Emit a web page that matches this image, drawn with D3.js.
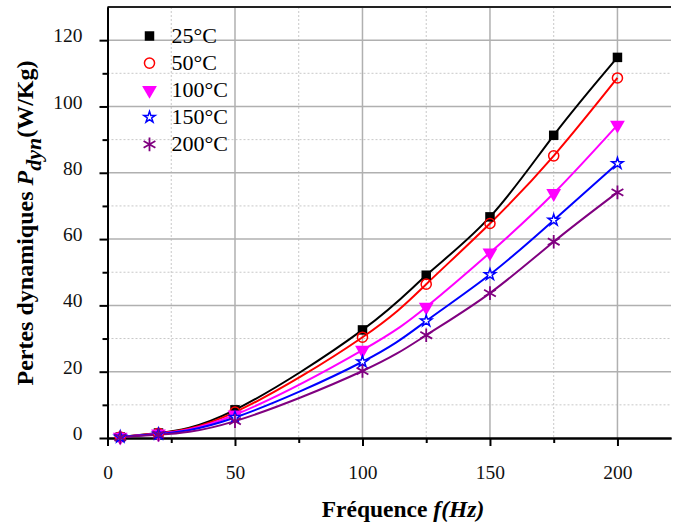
<!DOCTYPE html>
<html>
<head>
<meta charset="utf-8">
<script src="https://cdn.jsdelivr.net/npm/d3@7/dist/d3.min.js"></script>
<style>
body { margin: 0; background: #fff; }
svg text { font-family: "Liberation Serif", "Times New Roman", "DejaVu Serif", serif; }
.grid-major line { stroke: #b0b0b0; stroke-width: 1.5; }
.grid-minor line { stroke: #c8c8c8; stroke-width: 1; stroke-dasharray: 2,2; }
.axis path, .axis line { stroke: #000; stroke-width: 2; }
.axis text { font-size: 19.5px; fill: #111; }
.line { fill: none; stroke-width: 2; }
</style>
</head>
<body>
<div class="chart"></div>
<script>
var freq = [5, 20, 50, 100, 125, 150, 175, 200];
var labels = ["25°C", "50°C", "100°C", "150°C", "200°C"];
var colors = ["#000000", "#ff0000", "#ff00ff", "#0000ff", "#800080"];
var p25 = [0.3, 1.5, 8.5, 32.6, 49.1, 66.7, 91.3, 114.8];
var p50 = [0.3, 1.4, 7.8, 30.4, 46.4, 64.7, 85.1, 108.6];
var p100 = [0.3, 1.3, 7.0, 26.5, 39.5, 55.9, 73.8, 94.4];
var p150 = [0.3, 1.2, 6.2, 23.0, 35.3, 49.3, 65.7, 82.8];
var p200 = [0.2, 1.0, 5.1, 20.2, 31.0, 43.7, 59.2, 74.1];
var xTicks = [0, 50, 100, 150, 200];
var xMinor = [25, 75, 125, 175];
var yTicks = [0, 20, 40, 60, 80, 100, 120];
var yMinor = [10, 30, 50, 70, 90, 110, 130];

var series = [p25, p50, p100, p150, p200].map(function(v, i) {
  return { name: labels[i], color: colors[i], values: v.map(function(y, j) { return { x: freq[j], y: y }; }) };
});

var ww = 673, hh = 526
  , margin = { top: 7, right: 2, bottom: 88, left: 107.5 }
  , width = ww - margin.left - margin.right
  , height = hh - margin.top - margin.bottom;

var svgm = d3.select('.chart').append('svg').attr('width', ww).attr('height', hh);
var svg = svgm.append('g').attr('transform', `translate(${margin.left},${margin.top})`);

var x = d3.scaleLinear().domain([0, 221]).range([0, width])
  , y = d3.scaleLinear().domain([0, 130]).range([height, 0]);

// grid, minor dotted then major solid
svg.append('g').attr('class', 'grid-minor')
  .selectAll('line.v').data(xMinor).enter().append('line')
  .attr('x1', d => x(d)).attr('x2', d => x(d)).attr('y1', 0).attr('y2', height);
svg.select('.grid-minor')
  .selectAll('line.h').data(yMinor).enter().append('line')
  .attr('x1', 0).attr('x2', width).attr('y1', d => y(d)).attr('y2', d => y(d));
var gMaj = svg.append('g').attr('class', 'grid-major');
gMaj.selectAll('line.v').data(xTicks.slice(1)).enter().append('line')
  .attr('x1', d => x(d)).attr('x2', d => x(d)).attr('y1', 0).attr('y2', height);
gMaj.selectAll('line.h').data(yTicks.slice(1)).enter().append('line')
  .attr('x1', 0).attr('x2', width).attr('y1', d => y(d)).attr('y2', d => y(d));

// top frame
svg.append('line').attr('x1', 0).attr('x2', width).attr('y1', 0).attr('y2', 0)
  .attr('stroke', '#222').attr('stroke-width', 2);

// axes
var xAxis = d3.axisBottom(x).tickValues(xTicks).tickSize(8).tickSizeOuter(0).tickPadding(19).tickFormat(d3.format('d'));
var xAxisMinor = d3.axisBottom(x).tickValues(xMinor).tickSize(5).tickSizeOuter(0).tickFormat('');
var yAxis = d3.axisLeft(y).tickValues(yTicks).tickSize(8).tickSizeOuter(0).tickPadding(17).tickFormat(d3.format('d'));
var yAxisMinor = d3.axisLeft(y).tickValues(yMinor.slice(0, -1)).tickSize(5).tickSizeOuter(0).tickFormat('');

svg.append('g').attr('class', 'axis').attr('transform', `translate(0,${height})`).call(xAxisMinor);
svg.append('g').attr('class', 'axis').attr('transform', `translate(0,${height})`).call(xAxis);
svg.append('g').attr('class', 'axis').call(yAxisMinor);
svg.append('g').attr('class', 'axis yaxis').call(yAxis);
svg.selectAll('.axis').attr('font-family', null);
svg.selectAll('.yaxis text').attr('dy', '0.08em');

// curves
var line = d3.line().x(d => x(d.x)).y(d => y(d.y)).curve(d3.curveNatural);
svg.selectAll('path.line').data(series).enter().append('path')
  .attr('class', 'line').attr('stroke', d => d.color).attr('d', d => line(d.values));

// markers
function marker(sel, i) {
  var c = colors[i];
  if (i === 0) sel.attr('d', d3.symbol(d3.symbolSquare, 90)()).attr('fill', c);
  else if (i === 1) sel.attr('d', d3.symbol(d3.symbolCircle, 80)()).attr('fill', 'none').attr('stroke', c).attr('stroke-width', 1.5);
  else if (i === 2) sel.attr('d', d3.symbol(d3.symbolTriangle, 95)()).attr('fill', c);
  else if (i === 3) sel.attr('d', d3.symbol(d3.symbolStar, 40)()).attr('fill', '#fff').attr('stroke', c).attr('stroke-width', 1.5);
  else sel.attr('d', d3.symbol(d3.symbolAsterisk, 130)()).attr('fill', 'none').attr('stroke', c).attr('stroke-width', 1.8);
}

series.forEach(function(s, i) {
  var pts = svg.append('g').selectAll('path').data(s.values).enter().append('path');
  marker(pts, i);
  pts.attr('transform', d => `translate(${x(d.x)},${y(d.y)})` + (i === 2 ? ' rotate(180)' : ''));
});

// legend
var legend = svg.append('g').attr('transform', 'translate(42,29)');
series.forEach(function(s, i) {
  var g = legend.append('g').attr('transform', `translate(0,${i * 27.1})`);
  var m = g.append('path');
  marker(m, i);
  if (i === 2) m.attr('transform', 'rotate(180)');
  g.append('text').attr('x', 22).attr('y', 7).attr('font-size', 22).attr('fill', '#000').text(s.name);
});

// axis titles
svgm.append('text')
  .attr('x', 403).attr('y', 517)
  .attr('text-anchor', 'middle').attr('font-size', 23.5).attr('font-weight', 'bold')
  .call(t => {
    t.append('tspan').text('Fréquence ');
    t.append('tspan').attr('font-style', 'italic').text('f(Hz)');
  });

var yt = svgm.append('text')
  .attr('transform', 'translate(33,223) rotate(-90)')
  .attr('text-anchor', 'middle').attr('font-size', 24).attr('font-weight', 'bold');
yt.append('tspan').text('Pertes dynamiques ');
yt.append('tspan').attr('font-style', 'italic').text('P');
yt.append('tspan').attr('font-style', 'italic').attr('font-size', 22).attr('dy', 8).text('dyn');
yt.append('tspan').attr('dy', -8).text('(W/Kg)');
</script>
</body>
</html>
